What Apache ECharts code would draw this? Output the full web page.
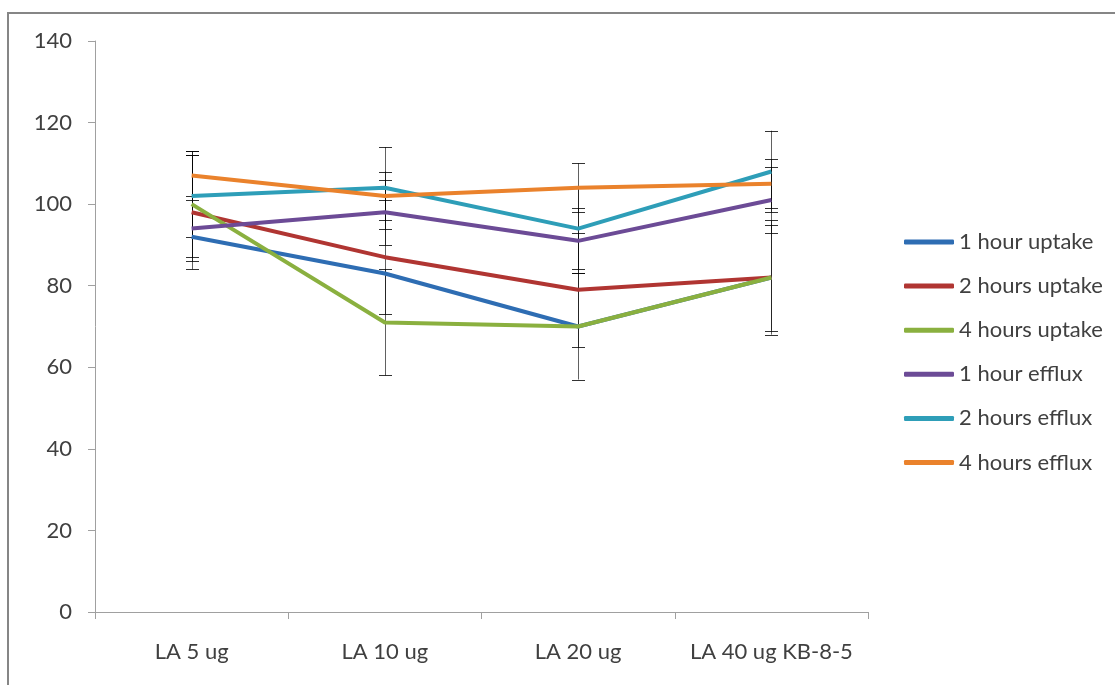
<!DOCTYPE html>
<html>
<head>
<meta charset="utf-8">
<script src="https://cdn.jsdelivr.net/npm/echarts@6/dist/echarts.min.js"></script>
<style>
html,body{margin:0;padding:0;background:#fff;}
#chart{width:1115px;height:685px;}
</style>
</head>
<body>
<div id="chart"></div>
<script>
var categories = ['LA 5 ug', 'LA 10 ug', 'LA 20 ug', 'LA 40 ug KB-8-5'];
var seriesNames = ['1 hour uptake', '2 hours uptake', '4 hours uptake', '1 hour efflux', '2 hours efflux', '4 hours efflux'];
var oneHourUptake = [92, 83, 70, 82];
var twoHoursUptake = [98, 87, 79, 82];
var fourHoursUptake = [100, 71, 70, 82];
var oneHourEfflux = [94, 98, 91, 101];
var twoHoursEfflux = [102, 104, 94, 108];
var fourHoursEfflux = [107, 102, 104, 105];
var oneHourUptakeErr = [0, 0, 0, 0];
var twoHoursUptakeErr = [14, 14, 14, 14];
var fourHoursUptakeErr = [13, 13, 13, 13];
var oneHourEffluxErr = [8, 8, 8, 8];
var twoHoursEffluxErr = [10, 10, 10, 10];
var fourHoursEffluxErr = [6, 6, 6, 6];
var yTicks = [0, 20, 40, 60, 80, 100, 120, 140];

var values = [oneHourUptake, twoHoursUptake, fourHoursUptake, oneHourEfflux, twoHoursEfflux, fourHoursEfflux];
var errors = [oneHourUptakeErr, twoHoursUptakeErr, fourHoursUptakeErr, oneHourEffluxErr, twoHoursEffluxErr, fourHoursEffluxErr];
var colors = ['#2E6DB3', '#B03532', '#8AB03F', '#6C4B96', '#2E9EB8', '#EA822C'];

var FONT = 'Lato';
var TXT = '#404040';

var series = [];
values.forEach(function (vals, s) {
  var errData = [];
  vals.forEach(function (v, i) {
    if (errors[s][i] > 0) errData.push([i, v - errors[s][i], v + errors[s][i]]);
  });
  series.push({
    name: seriesNames[s] + ' error',
    type: 'custom',
    z: 1,
    silent: true,
    data: errData,
    encode: { x: 0, y: [1, 2] },
    renderItem: function (params, api) {
      var i = api.value(0);
      var lo = api.coord([i, api.value(1)]);
      var hi = api.coord([i, api.value(2)]);
      var x = Math.round(lo[0]) + 0.5;
      var w = 6.5;
      var st = { stroke: 'rgba(0,0,0,0.62)', lineWidth: 1 };
      var cs = { stroke: 'rgba(0,0,0,0.8)', lineWidth: 1 };
      return {
        type: 'group',
        children: [
          { type: 'line', shape: { x1: x, y1: lo[1], x2: x, y2: hi[1] }, style: st },
          { type: 'line', shape: { x1: x - w, y1: Math.round(lo[1]) + 0.5, x2: x + w, y2: Math.round(lo[1]) + 0.5 }, style: cs },
          { type: 'line', shape: { x1: x - w, y1: Math.round(hi[1]) + 0.5, x2: x + w, y2: Math.round(hi[1]) + 0.5 }, style: cs }
        ]
      };
    }
  });
});
values.forEach(function (vals, s) {
  series.push({
    name: seriesNames[s],
    type: 'line',
    z: 3,
    data: vals,
    symbol: 'none',
    color: colors[s],
    lineStyle: { width: 4, color: colors[s] }
  });
});

var chart = echarts.init(document.getElementById('chart'), null, { renderer: 'canvas' });
chart.setOption({
  animation: false,
  backgroundColor: '#fff',
  color: colors,
  grid: { left: 95, right: 247, top: 41, bottom: 73, containLabel: false },
  legend: {
    data: seriesNames,
    orient: 'vertical',
    left: 899,
    top: 226,
    itemWidth: 50,
    itemHeight: 5,
    itemGap: 22.1,
    icon: 'roundRect',
    textStyle: { fontFamily: FONT, fontSize: 22, color: TXT, lineHeight: 20 }
  },
  xAxis: {
    type: 'category',
    data: categories,
    boundaryGap: true,
    axisLine: { lineStyle: { color: '#A0A0A0', width: 1 } },
    axisTick: { show: true, length: 7, interval: 0, lineStyle: { color: '#A0A0A0' } },
    axisLabel: { interval: 0, fontFamily: FONT, fontSize: 22, color: TXT, margin: 29, lineHeight: 22 },
    splitLine: { show: false }
  },
  yAxis: {
    type: 'value',
    min: yTicks[0],
    max: yTicks[yTicks.length - 1],
    interval: 20,
    axisLine: { show: true, lineStyle: { color: '#A0A0A0', width: 1 } },
    axisTick: { show: true, length: 7, lineStyle: { color: '#A0A0A0' } },
    axisLabel: { fontFamily: FONT, fontSize: 22, color: TXT, margin: 23 },
    splitLine: { show: false }
  },
  graphic: [{
    type: 'rect',
    silent: true,
    z: 100,
    shape: { x: 8, y: 13, width: 1300, height: 900 },
    style: { fill: 'none', stroke: '#868686', lineWidth: 2 }
  }],
  series: series
});
</script>
</body>
</html>
